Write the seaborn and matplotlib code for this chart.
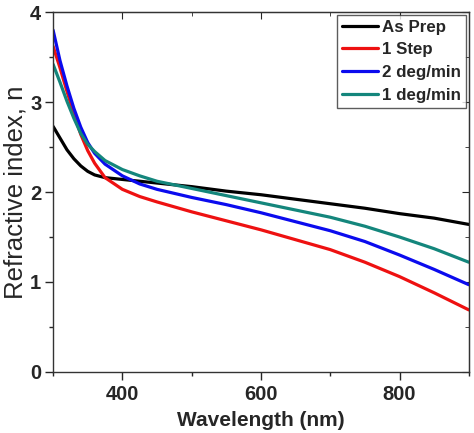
import numpy as np
import pandas as pd
import seaborn as sns
import matplotlib
matplotlib.use('Agg')
import matplotlib.pyplot as plt
from matplotlib.ticker import MultipleLocator

wavelength = [300, 310, 320, 330, 340, 350, 360, 375, 400, 425, 450,
              500, 550, 600, 650, 700, 750, 800, 850, 900]
n_as_prep = [2.73, 2.60, 2.47, 2.37, 2.29, 2.23, 2.19, 2.16, 2.14, 2.12, 2.10,
             2.06, 2.01, 1.97, 1.92, 1.87, 1.82, 1.76, 1.71, 1.64]
n_1step = [3.62, 3.38, 3.12, 2.87, 2.64, 2.46, 2.32, 2.16, 2.03, 1.95, 1.89,
           1.78, 1.68, 1.58, 1.47, 1.36, 1.22, 1.06, 0.88, 0.69]
n_2deg = [3.80, 3.46, 3.18, 2.93, 2.72, 2.55, 2.43, 2.31, 2.18, 2.09, 2.03,
          1.94, 1.86, 1.77, 1.67, 1.57, 1.45, 1.30, 1.14, 0.97]
n_1deg = [3.42, 3.22, 3.01, 2.82, 2.65, 2.53, 2.45, 2.35, 2.25, 2.18, 2.12,
          2.04, 1.96, 1.88, 1.80, 1.72, 1.62, 1.50, 1.37, 1.22]
labels = ['As Prep', '1 Step', '2 deg/min', '1 deg/min']
colors = ['#000000', '#ee1111', '#0b0bee', '#14867c']

df = pd.concat([
    pd.DataFrame({'wl': wavelength, 'n': vals, 'sample': lab})
    for vals, lab in zip([n_as_prep, n_1step, n_2deg, n_1deg], labels)
])

sns.set_style('ticks')
plt.rcParams['font.family'] = ['Liberation Sans', 'DejaVu Sans']

fig = plt.figure(figsize=(4.74, 4.33), dpi=100)
ax = fig.add_axes([0.112, 0.141, 0.877, 0.831])
sns.lineplot(data=df, x='wl', y='n', hue='sample', hue_order=labels,
             palette=colors, linewidth=2.3, ax=ax, sort=False)

ax.set_xlim(300, 900)
ax.set_ylim(0, 4)
ax.set_xticks([400, 600, 800])
ax.set_yticks([0, 1, 2, 3, 4])
ax.xaxis.set_minor_locator(MultipleLocator(100))
ax.yaxis.set_minor_locator(MultipleLocator(0.5))
ax.tick_params(which='major', direction='out', length=5.5, width=1)
ax.tick_params(axis='x', which='major', pad=4)
ax.tick_params(axis='y', which='major', pad=3)
ax.tick_params(which='minor', direction='out', length=3, width=1)
plt.setp(ax.get_xticklabels() + ax.get_yticklabels(), fontsize=14.5, fontweight='bold')
for sp in ax.spines.values():
    sp.set_visible(True)
    sp.set_linewidth(1)
    sp.set_color('#333333')

top = ax.secondary_xaxis('top')
top.set_xticks([400, 600, 800])
top.xaxis.set_minor_locator(MultipleLocator(100))
top.tick_params(which='both', direction='in', labeltop=False)
top.tick_params(which='major', length=5)
top.tick_params(which='minor', length=3)
right = ax.secondary_yaxis('right')
right.set_yticks([0, 1, 2, 3, 4])
right.yaxis.set_minor_locator(MultipleLocator(0.5))
right.tick_params(which='both', direction='in', labelright=False)
right.tick_params(which='major', length=5)
right.tick_params(which='minor', length=3)

ax.set_xlabel('Wavelength (nm)', fontsize=15, fontweight='bold', labelpad=5)
ax.set_ylabel('Refractive index, n', fontsize=18.5, labelpad=2)

leg = ax.legend(loc='upper right', frameon=True, fancybox=False,
                borderaxespad=0.15, handlelength=2.1, handletextpad=0.25,
                labelspacing=0.45, borderpad=0.3, prop={'weight': 'bold', 'size': 12.2})
leg.get_frame().set_edgecolor('#333333')
leg.get_frame().set_linewidth(1)
for h in leg.get_lines():
    h.set_linewidth(2.3)

fig.savefig('out.png', dpi=100)
